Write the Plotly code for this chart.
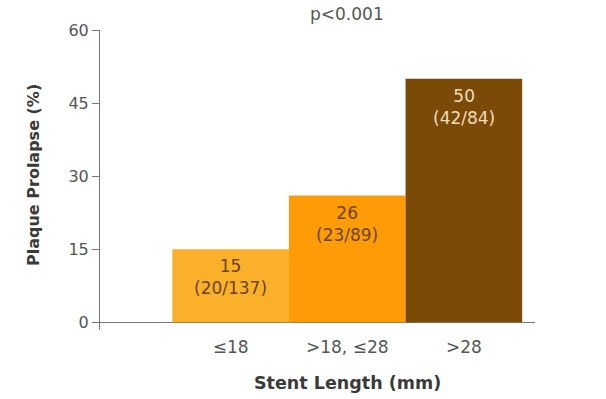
import plotly.graph_objects as go

# Plaque prolapse rate by stent length group
categories = ["≤18", ">18, ≤28", ">28"]
prolapse_pct = [15, 26, 50]
counts = ["(20/137)", "(23/89)", "(42/84)"]
bar_colors = ["#FBB02B", "#FD9C06", "#7B4A06"]
label_colors = ["#6B4410", "#6B4410", "#F2DDBB"]
y_ticks = [0, 15, 30, 45, 60]
x_title = "Stent Length (mm)"
y_title = "Plaque Prolapse (%)"
p_text = "p<0.001"

FONT = "DejaVu Sans, Arial"
x_pos = list(range(len(categories)))
mid = x_pos[len(x_pos) // 2]

fig = go.Figure()
fig.add_trace(go.Bar(
    x=x_pos,
    y=prolapse_pct,
    width=1.0,
    marker=dict(color=bar_colors, line=dict(width=0)),
    hoverinfo="skip",
))

# Value labels just inside the top of each bar
for xi, v, c, col in zip(x_pos, prolapse_pct, counts, label_colors):
    fig.add_annotation(
        x=xi, y=v, xref="x", yref="y",
        text=f"{v}<br>{c}",
        showarrow=False, yanchor="top", yshift=-5,
        font=dict(family=FONT, size=17, color=col),
        align="center",
    )

# p-value above the bars
fig.add_annotation(
    x=mid, y=1.0, xref="x", yref="paper",
    text=p_text, showarrow=False, yanchor="middle", yshift=16,
    font=dict(family=FONT, size=17, color="#555555"),
)

# Axis titles, centred on the bar group / plot height
fig.add_annotation(
    x=mid, y=0, xref="x", yref="paper",
    text=f"<b>{x_title}</b>", showarrow=False, yanchor="middle", yshift=-53,
    font=dict(family=FONT, size=17.5, color="#3a3a3a"),
)
fig.add_annotation(
    x=0, y=0.5, xref="paper", yref="paper",
    text=f"<b>{y_title}</b>", showarrow=False, textangle=-90,
    xanchor="center", yanchor="middle", xshift=-67, yshift=5,
    font=dict(family=FONT, size=16, color="#3a3a3a"),
)

fig.update_layout(
    width=606, height=399,
    margin=dict(l=100, r=71, t=30, b=69),
    paper_bgcolor="white", plot_bgcolor="white",
    showlegend=False,
    font=dict(family=FONT, size=16, color="#555555"),
    xaxis=dict(
        range=[-1.12, 2.61], automargin=False,
        tickmode="array", tickvals=x_pos, ticktext=categories,
        showgrid=False, zeroline=False, showline=False,
        ticks="outside", ticklen=2, tickcolor="rgba(0,0,0,0)",
        tickfont=dict(family=FONT, size=17, color="#555555"),
    ),
    yaxis=dict(
        range=[-1.6, 60], automargin=False,
        tickmode="array", tickvals=y_ticks,
        showgrid=False,
        zeroline=True, zerolinecolor="#777777", zerolinewidth=1,
        showline=True, linecolor="#777777", linewidth=1,
        ticks="outside", ticklen=7, tickcolor="#777777",
        tickfont=dict(family=FONT, size=16, color="#555555"),
    ),
)

fig.write_html("out.html")
